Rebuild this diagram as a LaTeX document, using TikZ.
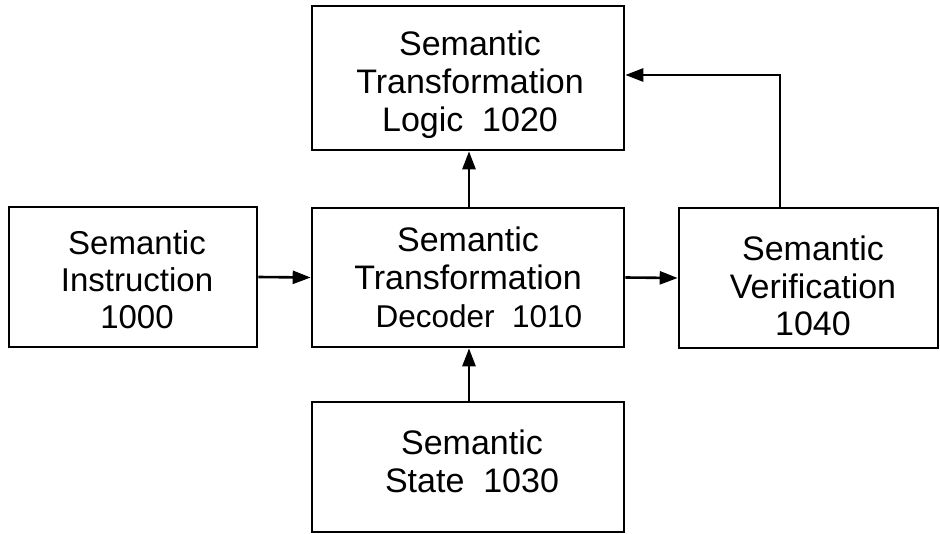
\documentclass[tikz,border=0pt]{standalone}
\usepackage{fontspec}
\setmainfont{Liberation Sans}
\usetikzlibrary{arrows.meta}
\tikzset{
  box/.style={draw=black, line width=2.6pt, fill=white, inner sep=0pt},
  txt/.style={align=center, inner sep=0pt, font=\fontsize{34}{38}\selectfont},
  conn/.style={line width=2.6pt, -{Triangle[length=18pt,width=13pt]}}
}
\begin{document}
\begin{tikzpicture}[x=1pt,y=-1pt]
\useasboundingbox (0,0) rectangle (940,533);
% boxes
\node[box, minimum width=312pt, minimum height=144pt] (logic) at (468,78) {};
\node[box, minimum width=312pt, minimum height=139pt] (dec) at (468,277.5) {};
\node[box, minimum width=248pt, minimum height=140pt] (instr) at (133,277) {};
\node[box, minimum width=259pt, minimum height=140pt] (ver) at (808.5,278) {};
\node[box, minimum width=312pt, minimum height=130pt] (state) at (468,467) {};
% texts
\node[txt] (tlogic) at (470,84.5) {Semantic\\Transformation\\Logic\ \ 1020};
\node[txt] (tdec) at (468,277.5) {Semantic\\Transformation\\\hspace*{22pt}{\fontsize{31.5}{38}\selectfont Decoder\ \ 1010}};
\node[txt, font=\fontsize{33}{37}\selectfont] (tinstr) at (137,279.5) {Semantic\\Instruction\\1000};
\node[txt, font=\fontsize{34}{37.5}\selectfont] (tver) at (813,286) {Semantic\\Verification\\1040};
\node[txt] (tstate) at (472,461.5) {Semantic\\State\ \ 1030};
% connectors
\draw[conn] (instr.east) -- (dec.west);
\draw[conn] (dec.east) -- (ver.west);
\draw[conn] (dec.north -| 469,0) -- (logic.south -| 469,0);
\draw[conn] (state.north -| 469,0) -- (dec.south -| 469,0);
\coordinate (corner) at (780,75);
\draw[conn] (ver.north -| corner) -- (corner) -- (logic.east |- corner);
\end{tikzpicture}
\end{document}
